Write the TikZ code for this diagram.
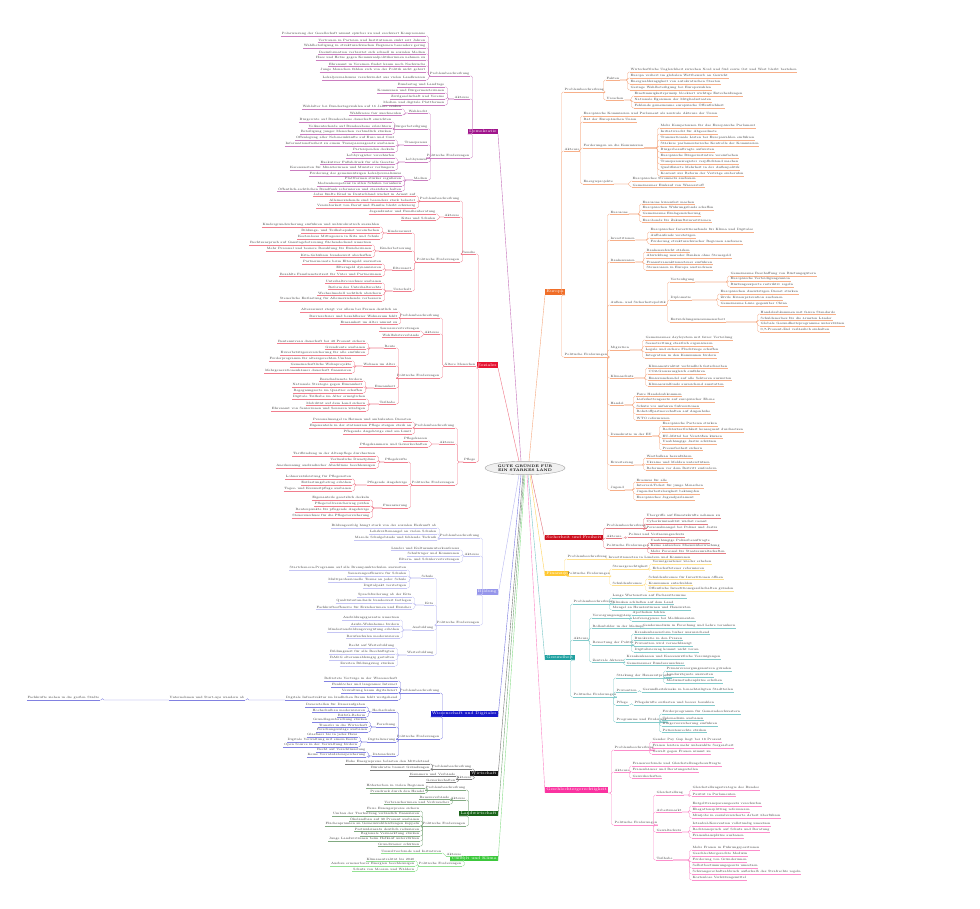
\documentclass[tikz,border=0pt]{standalone}
\usepackage{tikz}
\usetikzlibrary{shapes.geometric}
\usetikzlibrary{calc}

\definecolor{demc}{RGB}{160,20,140}
\definecolor{sozc}{RGB}{230,20,50}
\definecolor{bilc}{RGB}{150,150,235}
\definecolor{wisc}{RGB}{25,25,200}
\definecolor{wirc}{RGB}{20,20,20}
\definecolor{lanc}{RGB}{25,100,25}
\definecolor{umwc}{RGB}{60,200,60}
\definecolor{eurc}{RGB}{240,110,40}
\definecolor{sicc}{RGB}{205,15,30}
\definecolor{finc}{RGB}{255,200,50}
\definecolor{gesc}{RGB}{30,160,160}
\definecolor{genc}{RGB}{250,50,160}

% twig to the left: parent, colour, right edge, list of y/text
\newcommand{\twigL}[4]{%
  \foreach \yy/\txt in {#4}{%
    \node[lf, anchor=south east] (#1-\yy) at (#3,\yy) {\txt};
    \draw[#2!55, line width=0.35pt] (#1-\yy.south west) -- (#1-\yy.south east);
    \draw[#2!55, line width=0.35pt, rounded corners=1.5pt]
      (#1.south west) -| ([xshift=2.5pt]#1-\yy.south east) -- (#1-\yy.south east);
  }}
% twig to the right: parent, colour, left edge, list of y/text
\newcommand{\twigR}[4]{%
  \foreach \yy/\txt in {#4}{%
    \node[lf, anchor=south west] (#1-\yy) at (#3,\yy) {\txt};
    \draw[#2!55, line width=0.35pt] (#1-\yy.south west) -- (#1-\yy.south east);
    \draw[#2!55, line width=0.35pt, rounded corners=1.5pt]
      (#1.south east) -| ([xshift=-2.5pt]#1-\yy.south west) -- (#1-\yy.south west);
  }}

\begin{document}
\begin{tikzpicture}[x=1pt, y=-1pt,
  lf/.style={font=\fontsize{3.1}{3.8}\selectfont, inner sep=0.5pt, text=black!78},
  hdr/.style={fill=#1, text=white, font=\fontsize{4}{5}\selectfont, inner sep=1.2pt},
  hub/.style={ellipse, draw=gray!70, fill=gray!12, align=center, inner sep=1pt,
    font=\fontsize{3.6}{4.2}\selectfont\bfseries}]

\fill[white] (0,0) rectangle (980,908);
\useasboundingbox (0,0) rectangle (980,908);

%---------------------------------------
% Centre and main branches
%---------------------------------------
\node[hub] (ctr) at (525,468) {GUTE GRÜNDE FÜR\\EIN STARKES LAND};

\node[hdr=demc, anchor=south east] (dem) at (498,134) {Demokratie};
\node[hdr=sozc, anchor=south east] (soz) at (498,368) {Soziales};
\node[hdr=bilc, anchor=south east] (bil) at (498,595) {Bildung};
\node[hdr=wisc, anchor=south east] (wis) at (498,717) {Wissenschaft und Digitales};
\node[hdr=wirc, anchor=south east] (wir) at (498,776) {Wirtschaft};
\node[hdr=lanc, anchor=south east] (lan) at (498,816) {Landwirtschaft};
\node[hdr=umwc, anchor=south east] (umw) at (498,861) {Umwelt und Klima};

\node[hdr=eurc, anchor=south west] (eur) at (545,295) {Europa};
\node[hdr=sicc, anchor=south west] (sic) at (545,540) {Sicherheit und Freiheit};
\node[hdr=finc, anchor=south west] (fin) at (545,576) {Finanzen};
\node[hdr=gesc, anchor=south west] (ges) at (545,660) {Gesundheit};
\node[hdr=genc, anchor=south west] (gen) at (545,793) {Geschlechtergerechtigkeit};

\draw[demc!60, line width=0.4pt] ([xshift=-4pt]ctr.north) -- (dem.south east);
\draw[sozc!60, line width=0.4pt] ([xshift=-6pt]ctr.north) -- (soz.south east);
\draw[bilc!70, line width=0.4pt] ([xshift=-6pt]ctr.south) -- (bil.south east);
\draw[wisc!60, line width=0.4pt] ([xshift=-4pt]ctr.south) -- (wis.south east);
\draw[wirc!60, line width=0.4pt] ([xshift=-2pt]ctr.south) -- (wir.south east);
\draw[lanc!60, line width=0.4pt] ([xshift=-1pt]ctr.south) -- (lan.south east);
\draw[umwc!60, line width=0.4pt] (ctr.south) -- (umw.south east);
\draw[eurc!60, line width=0.4pt] ([xshift=4pt]ctr.north) -- (eur.south west);
\draw[sicc!60, line width=0.4pt] ([xshift=6pt]ctr.south) -- (sic.south west);
\draw[finc!80, line width=0.4pt] ([xshift=5pt]ctr.south) -- (fin.south west);
\draw[gesc!60, line width=0.4pt] ([xshift=3pt]ctr.south) -- (ges.south west);
\draw[genc!60, line width=0.4pt] ([xshift=2pt]ctr.south) -- (gen.south west);

%====================================================
% LEFT: Demokratie
%====================================================
\begin{scope}
  \twigL{dem}{demc}{470}{76/Problembeschreibung, 99/Akteure, 158/Politische Forderungen}
  \twigL{dem-76}{demc}{426}{36/Polarisierung der Gesellschaft nimmt spürbar zu und erschwert Kompromisse,
    42/Vertrauen in Parteien und Institutionen sinkt seit Jahren,
    48/Wahlbeteiligung in strukturschwachen Regionen besonders gering,
    54/Desinformation verbreitet sich schnell in sozialen Medien,
    60/Hass und Hetze gegen Kommunalpolitikerinnen nehmen zu,
    66/Ehrenamt in Vereinen findet kaum noch Nachwuchs,
    72/Junge Menschen fühlen sich von der Politik nicht gehört,
    80/Lokaljournalismus verschwindet aus vielen Landkreisen}
  \twigL{dem-99}{demc}{445}{87/Bundestag und Landtage, 93/Kommunen und Bürgermeisterinnen,
    99/Zivilgesellschaft und Vereine, 105/Medien und digitale Plattformen}
  \twigL{dem-158}{demc}{428}{113/Wahlrecht, 129/Bürgerbeteiligung, 145/Transparenz, 162/Lobbyismus, 180/Medien}
  \twigL{dem-158-113}{demc}{402}{109/Wahlalter bei Bundestagswahlen auf 16 Jahre senken, 115/Wahlkreise fair zuschneiden}
  \twigL{dem-158-129}{demc}{392}{122/Bürgerräte auf Bundesebene dauerhaft einrichten,
    128/Volksentscheide auf Bundesebene erleichtern, 134/Beteiligung junger Menschen verbindlich stärken}
  \twigL{dem-158-145}{demc}{395}{140/Offenlegung aller Nebeneinkünfte auf Euro und Cent,
    146/Informationsfreiheit zu einem Transparenzgesetz ausbauen, 152/Parteispenden deckeln}
  \twigL{dem-158-162}{demc}{395}{158/Lobbyregister verschärfen, 164/Exekutiver Fußabdruck für alle Gesetze,
    170/Karenzzeiten für Ministerinnen und Minister verlängern}
  \twigL{dem-158-180}{demc}{402}{176/Förderung des gemeinnützigen Lokaljournalismus,
    181/Plattformen stärker regulieren, 186/Medienkompetenz in allen Schulen verankern,
    191/Öffentlich-rechtlichen Rundfunk reformieren und staatsfern halten}
\end{scope}

%====================================================
% LEFT: Soziales
%====================================================
\begin{scope}
  \twigL{soz}{sozc}{476}{254/Familie, 366/Ältere Menschen, 462/Pflege}
  % Familie
  \twigL{soz-254}{sozc}{460}{201/Problembeschreibung, 217/Akteure, 262/Politische Forderungen}
  \twigL{soz-254-201}{sozc}{416}{196/Jedes fünfte Kind in Deutschland wächst in Armut auf,
    202/Alleinerziehende sind besonders stark belastet, 208/Vereinbarkeit von Beruf und Familie bleibt schwierig}
  \twigL{soz-254-217}{sozc}{436}{214/Jugendämter und Familienberatung, 220/Kitas und Schulen}
  \twigL{soz-254-262}{sozc}{412}{233/Kinderarmut, 251/Kinderbetreuung, 270/Elternzeit, 291/Unterhalt}
  \twigL{soz-254-262-233}{sozc}{380}{227/Kindergrundsicherung einführen und unbürokratisch auszahlen,
    233/Bildungs- und Teilhabepaket vereinfachen, 239/Kostenloses Mittagessen in Kita und Schule}
  \twigL{soz-254-262-251}{sozc}{372}{245/Rechtsanspruch auf Ganztagsbetreuung flächendeckend umsetzen,
    251/Mehr Personal und bessere Bezahlung für Erzieherinnen, 257/Kita-Gebühren bundesweit abschaffen}
  \twigL{soz-254-262-270}{sozc}{382}{264/Partnermonate beim Elterngeld ausweiten, 270/Elterngeld dynamisieren,
    276/Bezahlte Familienstartzeit für Väter und Partnerinnen}
  \twigL{soz-254-262-291}{sozc}{382}{283/Unterhaltsvorschuss ausbauen, 289/Reform des Unterhaltsrechts,
    295/Wechselmodell rechtlich absichern, 301/Steuerliche Entlastung für Alleinerziehende verbessern}
  % Ältere Menschen
  \twigL{soz-366}{sozc}{440}{318/Problembeschreibung, 334/Akteure, 378/Politische Forderungen}
  \twigL{soz-366-318}{sozc}{398}{312/Altersarmut steigt vor allem bei Frauen deutlich an,
    318/Barrierefreier und bezahlbarer Wohnraum fehlt, 324/Einsamkeit im Alter nimmt zu}
  \twigL{soz-366-334}{sozc}{420}{331/Seniorenvertretungen, 337/Wohlfahrtsverbände}
  \twigL{soz-366-378}{sozc}{396}{348/Rente, 366/Wohnen im Alter, 388/Einsamkeit, 404/Teilhabe}
  \twigL{soz-366-378-348}{sozc}{366}{343/Rentenniveau dauerhaft bei 48 Prozent sichern, 349/Grundrente ausbauen,
    355/Erwerbstätigenversicherung für alle einführen}
  \twigL{soz-366-378-366}{sozc}{352}{361/Förderprogramm für altersgerechten Umbau, 367/Gemeinschaftliche Wohnprojekte,
    373/Mehrgenerationenhäuser dauerhaft finanzieren}
  \twigL{soz-366-378-388}{sozc}{363}{381/Besuchsdienste fördern, 387/Nationale Strategie gegen Einsamkeit,
    393/Begegnungsorte im Quartier schaffen}
  \twigL{soz-366-378-404}{sozc}{366}{399/Digitale Teilhabe im Alter ermöglichen, 405/Mobilität auf dem Land sichern,
    411/Ehrenamt von Seniorinnen und Senioren würdigen}
  % Pflege
  \twigL{soz-462}{sozc}{455}{428/Problembeschreibung, 444/Akteure, 485/Politische Forderungen}
  \twigL{soz-462-428}{sozc}{412}{422/Personalmangel in Heimen und ambulanten Diensten,
    428/Eigenanteile in der stationären Pflege steigen stark an, 434/Pflegende Angehörige sind am Limit}
  \twigL{soz-462-444}{sozc}{428}{441/Pflegekassen, 447/Pflegekammern und Gewerkschaften}
  \twigL{soz-462-485}{sozc}{408}{462/Pflegekräfte, 485/Pflegende Angehörige, 508/Finanzierung}
  \twigL{soz-462-485-462}{sozc}{376}{456/Tarifbindung in der Altenpflege durchsetzen, 462/Verlässliche Dienstpläne,
    468/Anerkennung ausländischer Abschlüsse beschleunigen}
  \twigL{soz-462-485-485}{sozc}{352}{479/Lohnersatzleistung für Pflegezeiten, 485/Entlastungsbetrag erhöhen,
    491/Tages- und Kurzzeitpflege ausbauen}
  \twigL{soz-462-485-508}{sozc}{370}{500/Eigenanteile gesetzlich deckeln, 506/Pflegevollversicherung prüfen,
    512/Rentenpunkte für pflegende Angehörige, 518/Steuerzuschuss für die Pflegeversicherung}
\end{scope}

%====================================================
% LEFT: Bildung
%====================================================
\begin{scope}
  \twigL{bil}{bilc}{480}{538/Problembeschreibung, 556/Akteure, 625/Politische Forderungen}
  \twigL{bil-538}{bilc}{437}{528/Bildungserfolg hängt stark von der sozialen Herkunft ab,
    534/Lehrkräftemangel an vielen Schulen, 540/Marode Schulgebäude und fehlende Technik}
  \twigL{bil-556}{bilc}{460}{550/Länder und Kultusministerkonferenz, 556/Schulträger und Kommunen,
    562/Eltern- und Schülervertretungen}
  \twigL{bil-625}{bilc}{434}{578/Schule, 605/Kita, 630/Ausbildung, 655/Weiterbildung}
  \twigL{bil-625-578}{bilc}{407}{570/Startchancen-Programm auf alle Brennpunktschulen ausweiten,
    576/Sanierungsoffensive für Schulen, 582/Multiprofessionelle Teams an jeder Schule, 588/Digitalpakt verstetigen}
  \twigL{bil-625-605}{bilc}{412}{597/Sprachförderung ab der Kita, 603/Qualitätsstandards bundesweit festlegen,
    609/Fachkräfteoffensive für Erzieherinnen und Erzieher}
  \twigL{bil-625-630}{bilc}{400}{620/Ausbildungsgarantie umsetzen, 626/Azubi-Wohnheime fördern,
    632/Mindestausbildungsvergütung erhöhen, 638/Berufsschulen modernisieren}
  \twigL{bil-625-655}{bilc}{395}{648/Recht auf Weiterbildung, 654/Bildungszeit für alle Beschäftigten,
    660/BAföG elternunabhängig gestalten, 666/Zweiten Bildungsweg stärken}
\end{scope}

%====================================================
% LEFT: Wissenschaft und Digitales
%====================================================
\begin{scope}
  \twigL{wis}{wisc}{440}{693/Problembeschreibung, 739/Politische Forderungen}
  \twigL{wis-693}{wisc}{398}{681/Befristete Verträge in der Wissenschaft, 687/Funklöcher und langsames Internet,
    693/Verwaltung kaum digitalisiert, 700/Digitale Infrastruktur im ländlichen Raum fehlt weitgehend}
  \twigL{wis-693-700}{wisc}{245}{700/Unternehmen und Start-ups wandern ab}
  \twigL{wis-693-700-700}{wisc}{100}{700/Fachkräfte ziehen in die großen Städte}
  \twigL{wis-739}{wisc}{396}{712/Hochschulen, 727/Forschung, 742/Digitalisierung, 756/Datenschutz}
  \twigL{wis-739-712}{wisc}{366}{707/Dauerstellen für Daueraufgaben, 712/Hochschulbau modernisieren, 717/BAföG-Reform}
  \twigL{wis-739-727}{wisc}{368}{722/Grundlagenforschung stärken, 727/Transfer in die Wirtschaft, 732/Forschungszulage ausbauen}
  \twigL{wis-739-742}{wisc}{358}{737/Glasfaser bis in jedes Haus, 742/Digitale Verwaltung mit einem Konto,
    747/Open Source in der Verwaltung fördern}
  \twigL{wis-739-756}{wisc}{366}{752/Recht auf Verschlüsselung, 757/Keine Vorratsdatenspeicherung}
\end{scope}

%====================================================
% LEFT: Wirtschaft, Landwirtschaft, Umwelt
%====================================================
\begin{scope}
  \twigL{wir}{wirc}{472}{769/Problembeschreibung, 779/Akteure}
  \twigL{wir-769}{wirc}{430}{764/Hohe Energiepreise belasten den Mittelstand, 770/Bürokratie bremst Gründungen}
  \twigL{wir-779}{wirc}{456}{776/Kammern und Verbände, 782/Gewerkschaften}

  \twigL{lan}{lanc}{466}{790/Problembeschreibung, 800/Akteure, 826/Politische Forderungen}
  \twigL{lan-790}{lanc}{425}{788/Höfesterben in vielen Regionen, 793/Preisdruck durch den Handel}
  \twigL{lan-800}{lanc}{450}{799/Bauernverbände, 804/Verbraucherinnen und Verbraucher}
  \twigL{lan-826}{lanc}{420}{811/Faire Erzeugerpreise sichern, 816/Umbau der Tierhaltung verlässlich finanzieren,
    821/Ökolandbau auf 30 Prozent ausbauen, 826/Flächenprämien an Gemeinwohlleistungen koppeln,
    831/Pestizideinsatz deutlich reduzieren, 836/Regionale Vermarktung stärken,
    841/Junge Landwirtinnen beim Hofkauf unterstützen, 846/Grundwasser schützen}

  \twigL{umw}{umwc}{462}{856/Akteure, 866/Politische Forderungen}
  \twigL{umw-856}{umwc}{442}{853/Umweltverbände und Initiativen}
  \twigL{umw-866}{umwc}{415}{861/Klimaneutralität bis 2040, 866/Ausbau erneuerbarer Energien beschleunigen,
    871/Schutz von Mooren und Wäldern}
\end{scope}

%====================================================
% RIGHT: Europa
%====================================================
\begin{scope}
  \twigR{eur}{eurc}{564}{92/Problembeschreibung, 151/Akteure, 357/Politische Forderungen}
  \twigR{eur-92}{eurc}{606}{80/Fakten, 100/Ursachen}
  \twigR{eur-92-80}{eurc}{630}{72/Wirtschaftliche Ungleichheit zwischen Nord und Süd sowie Ost und West bleibt bestehen,
    78/Europa verliert im globalen Wettbewerb an Gewicht, 84/Energieabhängigkeit von autokratischen Staaten,
    90/Geringe Wahlbeteiligung bei Europawahlen}
  \twigR{eur-92-100}{eurc}{634}{96/Einstimmigkeitsprinzip blockiert wichtige Entscheidungen,
    102/Nationale Egoismen der Mitgliedsstaaten, 108/Fehlende gemeinsame europäische Öffentlichkeit}
  \twigR{eur-151}{eurc}{583}{116/Europäische Kommission und Parlament als zentrale Akteure der Union,
    122/Rat der Europäischen Union, 148/Forderungen an die Kommission, 184/Energieprojekte}
  \twigR{eur-151-148}{eurc}{660}{128/Mehr Kompetenzen für das Europäische Parlament,
    134/Initiativrecht für Abgeordnete, 140/Transnationale Listen bei Europawahlen einführen,
    146/Stärkere parlamentarische Kontrolle der Kommission, 152/Bürgerbeauftragte aufwerten,
    158/Europäische Bürgerinitiative vereinfachen, 164/Transparenzregister verpflichtend machen,
    170/Qualifizierte Mehrheit in der Außenpolitik, 176/Konvent zur Reform der Verträge einberufen}
  \twigR{eur-151-184}{eurc}{632}{181/Europäisches Stromnetz ausbauen, 187/Gemeinsamer Einkauf von Wasserstoff}
  \twigR{eur-357}{eurc}{610}{214/Eurozone, 240/Investitionen, 262/Bankenunion, 305/Außen- und Sicherheitspolitik,
    350/Migration, 378/Klimaschutz, 405/Handel, 436/Demokratie in der EU, 465/Erweiterung, 490/Jugend}
  \twigR{eur-357-214}{eurc}{642}{204/Eurozone krisenfest machen, 210/Europäischen Währungsfonds schaffen,
    216/Gemeinsame Einlagensicherung, 222/Eurobonds für Zukunftsinvestitionen}
  \twigR{eur-357-240}{eurc}{650}{232/Europäischer Investitionsfonds für Klima und Digitales,
    238/Aufbaufonds verstetigen, 244/Förderung strukturschwacher Regionen ausbauen}
  \twigR{eur-357-262}{eurc}{646}{252/Bankenaufsicht stärken, 258/Abwicklung maroder Banken ohne Steuergeld,
    264/Finanztransaktionssteuer einführen, 270/Steueroasen in Europa austrocknen}
  \twigR{eur-357-305}{eurc}{670}{282/Verteidigung, 300/Diplomatie, 322/Entwicklungszusammenarbeit}
  \twigR{eur-357-305-282}{eurc}{730}{276/Gemeinsame Beschaffung von Rüstungsgütern,
    281/Europäische Verteidigungsunion, 287/Rüstungsexporte restriktiv regeln}
  \twigR{eur-357-305-300}{eurc}{720}{294/Europäischen Auswärtigen Dienst stärken, 300/Zivile Krisenprävention ausbauen,
    306/Gemeinsame Linie gegenüber China}
  \twigR{eur-357-305-322}{eurc}{760}{314/Handelsabkommen mit fairen Standards, 320/Schuldenerlass für die ärmsten Länder,
    326/Globale Gesundheitsprogramme unterstützen, 332/0{,}7-Prozent-Ziel verlässlich einhalten}
  \twigR{eur-357-350}{eurc}{645}{340/Gemeinsames Asylsystem mit fairer Verteilung, 346/Seenotrettung staatlich organisieren,
    352/Legale und sichere Fluchtwege schaffen, 358/Integration in den Kommunen fördern}
  \twigR{eur-357-378}{eurc}{648}{368/Klimaneutralität verbindlich festschreiben, 374/CO2-Grenzausgleich einführen,
    380/Emissionshandel auf alle Sektoren ausweiten, 386/Klimasozialfonds ausreichend ausstatten}
  \twigR{eur-357-405}{eurc}{636}{396/Faire Handelsabkommen, 402/Lieferkettengesetz auf europäischer Ebene,
    408/Schutz vor unfairen Subventionen, 414/Rohstoffpartnerschaften auf Augenhöhe, 420/WTO reformieren}
  \twigR{eur-357-436}{eurc}{662}{426/Europäische Parteien stärken, 432/Rechtsstaatlichkeit konsequent durchsetzen,
    438/EU-Mittel bei Verstößen kürzen, 444/Unabhängige Justiz schützen, 450/Pressefreiheit sichern}
  \twigR{eur-357-465}{eurc}{646}{458/Westbalkan heranführen, 464/Ukraine und Moldau unterstützen,
    470/Reformen vor dem Beitritt einfordern}
  \twigR{eur-357-490}{eurc}{636}{482/Erasmus für alle, 488/Interrail-Ticket für junge Menschen,
    494/Jugendarbeitslosigkeit bekämpfen, 500/Europäisches Jugendparlament}
\end{scope}

%====================================================
% RIGHT: Sicherheit, Finanzen
%====================================================
\begin{scope}
  \twigR{sic}{sicc}{606}{528/Problembeschreibung, 538/Akteure, 548/Politische Forderungen}
  \twigR{sic-528}{sicc}{646}{518/Übergriffe auf Einsatzkräfte nehmen zu, 524/Cyberkriminalität wächst rasant,
    530/Personalmangel bei Polizei und Justiz}
  \twigR{sic-538}{sicc}{628}{537/Polizei und Verfassungsschutz}
  \twigR{sic-548}{sicc}{650}{543/Unabhängige Polizeibeauftragte, 548/Keine anlasslose Massenüberwachung,
    553/Mehr Personal für Staatsanwaltschaften}

  \twigR{fin}{finc}{567}{559/Problembeschreibung, 576/Politische Forderungen}
  \twigR{fin-559}{finc}{608}{559/Investitionsstau in Ländern und Kommunen}
  \twigR{fin-576}{finc}{612}{569/Steuergerechtigkeit, 585/Schuldenbremse}
  \twigR{fin-576-569}{finc}{652}{564/Vermögensteuer wieder erheben, 570/Erbschaftsteuer reformieren}
  \twigR{fin-576-585}{finc}{648}{579/Schuldenbremse für Investitionen öffnen, 585/Kommunen entschulden,
    591/Öffentliche Investitionsgesellschaften gründen}
\end{scope}

%====================================================
% RIGHT: Gesundheit
%====================================================
\begin{scope}
  \twigR{ges}{gesc}{573}{604/Problembeschreibung, 640/Akteure, 697/Politische Forderungen}
  \twigR{ges-604}{gesc}{612}{598/Lange Wartezeiten auf Facharzttermine, 604/Kliniken schließen auf dem Land,
    610/Mangel an Hausärztinnen und Hausärzten}
  \twigR{ges-640}{gesc}{592}{618/Versorgungsengpässe, 628/Rollenbilder in der Medizin, 645/Bewertung der Politik,
    662/Zentrale Akteure}
  \twigR{ges-640-618}{gesc}{632}{615/Apotheken fehlen, 621/Lieferengpässe bei Medikamenten}
  \twigR{ges-640-628}{gesc}{642}{628/Gendermedizin in Forschung und Lehre verankern}
  \twigR{ges-640-645}{gesc}{634}{634/Krankenhausreform bisher unzureichend, 640/Bürokratie in den Praxen,
    646/Prävention wird vernachlässigt, 652/Digitalisierung kommt nicht voran}
  \twigR{ges-640-662}{gesc}{626}{659/Krankenkassen und Kassenärztliche Vereinigungen, 665/Gemeinsamer Bundesausschuss}
  \twigR{ges-697}{gesc}{616}{678/Stärkung der Hausarztpraxen, 692/Prävention, 705/Pflege, 722/Programme und Förderung}
  \twigR{ges-697-678}{gesc}{666}{671/Primärversorgungszentren gründen, 677/Landarztquote ausweiten,
    683/Medizinstudienplätze erhöhen}
  \twigR{ges-697-692}{gesc}{642}{692/Gesundheitskioske in benachteiligten Stadtteilen}
  \twigR{ges-697-705}{gesc}{634}{705/Pflegekräfte entlasten und besser bezahlen}
  \twigR{ges-697-722}{gesc}{662}{714/Förderprogramm für Gemeindeschwestern, 720/Telemedizin ausbauen,
    726/Bürgerversicherung einführen, 732/Patientenrechte stärken}
\end{scope}

%====================================================
% RIGHT: Geschlechtergerechtigkeit
%====================================================
\begin{scope}
  \twigR{gen}{genc}{614}{750/Problembeschreibung, 772/Akteure, 825/Politische Forderungen}
  \twigR{gen-750}{genc}{652}{742/Gender Pay Gap liegt bei 18 Prozent, 748/Frauen leisten mehr unbezahlte Sorgearbeit,
    754/Gewalt gegen Frauen nimmt zu}
  \twigR{gen-772}{genc}{632}{766/Frauenverbände und Gleichstellungsbeauftragte, 772/Frauenhäuser und Beratungsstellen,
    778/Gewerkschaften}
  \twigR{gen-825}{genc}{656}{795/Gleichstellung, 812/Arbeitsmarkt, 832/Gewaltschutz, 860/Teilhabe}
  \twigR{gen-825-795}{genc}{692}{790/Gleichstellungsstrategie des Bundes, 796/Parität in Parlamenten}
  \twigR{gen-825-812}{genc}{692}{806/Entgelttransparenzgesetz verschärfen, 812/Ehegattensplitting reformieren,
    818/Minijobs in sozialversicherte Arbeit überführen}
  \twigR{gen-825-832}{genc}{692}{826/Istanbul-Konvention vollständig umsetzen, 832/Rechtsanspruch auf Schutz und Beratung,
    838/Frauenhausplätze ausbauen}
  \twigR{gen-825-860}{genc}{692}{850/Mehr Frauen in Führungspositionen, 856/Geschlechtergerechte Medizin,
    862/Förderung von Gründerinnen, 868/Selbstbestimmungsgesetz umsetzen,
    874/Schwangerschaftsabbruch außerhalb des Strafrechts regeln, 880/Kostenlose Verhütungsmittel}
\end{scope}

\end{tikzpicture}
\end{document}
